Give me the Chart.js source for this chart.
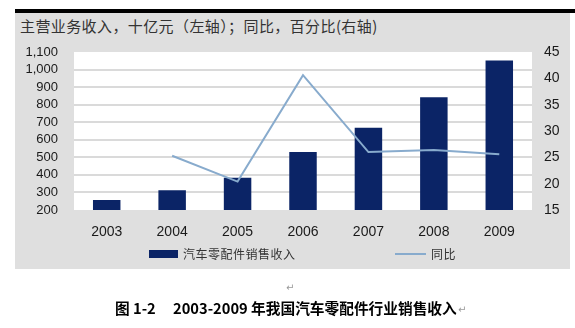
<!DOCTYPE html>
<html>
<head>
<meta charset="utf-8">
<script src="https://cdn.jsdelivr.net/npm/chart.js@4/dist/chart.umd.min.js"></script>
<style>
  html, body { margin: 0; padding: 0; background: #fff; }
  #wrap { position: relative; width: 575px; height: 328px; overflow: hidden; }
  #panel { position: absolute; left: 15px; top: 13px; width: 555px; height: 256px; background: #dfdfdf; }
  #topbar { position: absolute; left: 15px; top: 9px; width: 560px; height: 4px; background: #000; }
  #title { position: absolute; left: 20px; top: 16px; font: 15px "Noto Sans CJK SC", sans-serif; color: #333; white-space: nowrap; line-height: 20px; letter-spacing: 0.4px; }
  canvas { position: absolute; left: 0; top: 0; }
  .leg { position: absolute; font: 12px "Noto Sans CJK SC", sans-serif; color: #333; white-space: nowrap; line-height: 16px; letter-spacing: 0.5px; }
  .cap { position: absolute; font: bold 14.7px "Noto Sans CJK SC", sans-serif; color: #000; white-space: pre; line-height: 18px; }
  .mark { position: absolute; font: 10px "DejaVu Sans", sans-serif; color: #999; line-height: 12px; }
</style>
</head>
<body>
<div id="wrap">
  <div id="topbar"></div>
  <div id="panel"></div>
  <div id="title">主营业务收入，十亿元（左轴）；同比，百分比(右轴)</div>
  <canvas id="c" width="575" height="328"></canvas>
  <div class="leg" style="left:149px;top:250px;width:29px;height:8px;background:#0b2466;"></div>
  <div class="leg" style="left:183px;top:246px;">汽车零配件销售收入</div>
  <div class="leg" style="left:395px;top:253px;width:31px;height:2px;background:#88abcd;"></div>
  <div class="leg" style="left:431px;top:246px;">同比</div>
  <div class="mark" style="left:286px;top:282px;">↵</div>
  <div class="cap" style="left:115px;top:299px;">图 1-2</div>
  <div class="cap" style="left:173px;top:299px;">2003-2009 年我国汽车零配件行业销售收入</div>
  <div class="mark" style="left:458px;top:304px;">↵</div>
</div>
<script>
const categories = ['2003', '2004', '2005', '2006', '2007', '2008', '2009'];
const revenue = [257, 313, 383, 530, 668, 842, 1052];
const yoy = [null, 25.3, 20.4, 40.6, 26.0, 26.4, 25.6];
const leftTicks = [200, 1100, 100];   // min, max, step
const rightTicks = [15, 45, 5];       // min, max, step

const plotBg = {
  id: 'plotBg',
  beforeDraw(chart) {
    const a = chart.chartArea, ctx = chart.ctx;
    ctx.save();
    ctx.fillStyle = '#ffffff';
    ctx.fillRect(a.left, a.top, a.right - a.left, a.bottom - a.top);
    ctx.restore();
  }
};

new Chart(document.getElementById('c'), {
  type: 'bar',
  data: {
    labels: categories,
    datasets: [
      {
        type: 'line',
        label: '同比',
        data: yoy,
        yAxisID: 'y2',
        borderColor: '#88abcd',
        borderWidth: 2,
        pointRadius: 0,
        tension: 0,
        spanGaps: false,
        order: 0
      },
      {
        type: 'bar',
        label: '汽车零配件销售收入',
        data: revenue,
        yAxisID: 'y',
        backgroundColor: '#0b2466',
        barPercentage: 0.42,
        categoryPercentage: 1,
        order: 1
      }
    ]
  },
  options: {
    responsive: false,
    animation: false,
    layout: { padding: { left: 0, right: 0, top: 52, bottom: 88 } },
    plugins: { legend: { display: false }, tooltip: { enabled: false } },
    scales: {
      x: {
        grid: { display: false, drawTicks: false },
        border: { display: false },
        ticks: { padding: 14, color: '#1a1a1a', font: { family: 'Liberation Sans', size: 14 } },
        afterFit(s) { s.height = 30; }
      },
      y: {
        position: 'left',
        min: leftTicks[0], max: leftTicks[1],
        ticks: { stepSize: leftTicks[2], autoSkip: false, padding: 16, color: '#1a1a1a', font: { family: 'Liberation Sans', size: 13 } },
        grid: {
          drawTicks: false,
          lineWidth: 2,
          color: (ctx) => (ctx.tick && (ctx.tick.value === leftTicks[0] || ctx.tick.value === leftTicks[1])) ? 'rgba(0,0,0,0)' : '#dadada'
        },
        border: { display: false },
        afterFit(s) { s.width = 74; }
      },
      y2: {
        position: 'right',
        min: rightTicks[0], max: rightTicks[1],
        ticks: { stepSize: rightTicks[2], autoSkip: false, padding: 12, color: '#1a1a1a', font: { family: 'Liberation Sans', size: 14 } },
        grid: { display: false, drawTicks: false },
        border: { display: false },
        afterFit(s) { s.width = 43; }
      }
    }
  },
  plugins: [plotBg]
});
</script>
</body>
</html>
